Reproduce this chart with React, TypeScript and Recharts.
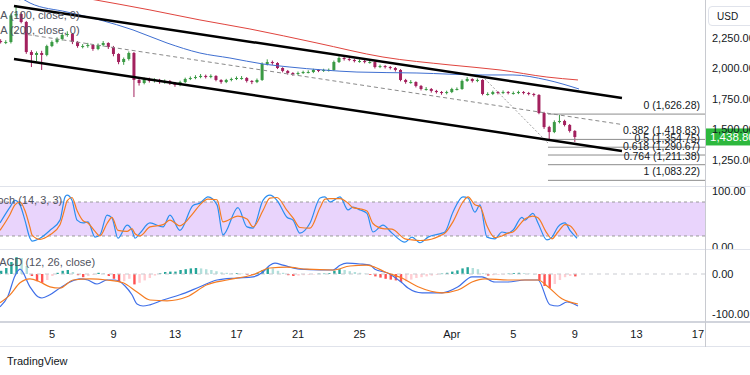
import { ComposedChart, Bar, Line, XAxis, YAxis, ReferenceLine, ReferenceArea } from "recharts";

const FONT = '"Liberation Sans", Arial, sans-serif';
const TEXT = "#131722";
const UP = "#3a9a44";
const DOWN = "#a3215e";
const X_DOMAIN: [number, number] = [1.62, 47.46];

// 8h candles, t = day of month (Apr 1 == 31)
const firstOpen = 2225;
const closes = [
  2217, 2217, 2435, 2447, 2381, 2135, 2111, 2127, 2111, 2184,
  2217, 2242, 2275, 2283, 2217, 2184, 2184, 2193, 2160, 2193,
  2209, 2176, 2119, 2053, 2078, 2127, 1906, 1881, 1914, 1898,
  1906, 1889, 1898, 1881, 1865, 1889, 1914, 1922, 1930, 1939,
  1930, 1939, 1906, 1889, 1906, 1914, 1922, 1922, 1898, 1889,
  1906, 2037, 2053, 2045, 2004, 1980, 1963, 1955, 1963, 1971,
  1971, 1988, 1980, 1988, 1988, 2053, 2086, 2078, 2070, 2061,
  2061, 2053, 2053, 2012, 2020, 2012, 2004, 1988, 1906, 1889,
  1889, 1857, 1832, 1832, 1816, 1807, 1799, 1807, 1832, 1832,
  1898, 1914, 1898, 1906, 1791, 1791, 1807, 1799, 1807, 1799,
  1799, 1807, 1799, 1791, 1783, 1635, 1520, 1479, 1561, 1570,
  1537, 1488, 1438.8,
];
const highs = [
  2240, 2232, 2450, 2520, 2460, 2390, 2150, 2140, 2145, 2195,
  2230, 2255, 2290, 2305, 2290, 2225, 2200, 2210, 2200, 2205,
  2225, 2215, 2185, 2125, 2090, 2140, 2135, 1925, 1925, 1925,
  1920, 1915, 1910, 1905, 1890, 1900, 1925, 1935, 1945, 1955,
  1950, 1952, 1945, 1912, 1915, 1925, 1935, 1938, 1930, 1905,
  1918, 2050, 2075, 2065, 2052, 2010, 1988, 1970, 1975, 1982,
  1985, 1998, 1995, 1998, 2000, 2065, 2100, 2095, 2090, 2080,
  2075, 2070, 2068, 2060, 2032, 2028, 2020, 2012, 1995, 1915,
  1905, 1895, 1865, 1848, 1840, 1825, 1815, 1818, 1842, 1845,
  1910, 1930, 1920, 1918, 1912, 1805, 1818, 1815, 1820, 1815,
  1812, 1818, 1815, 1808, 1800, 1790, 1645, 1530, 1575, 1619,
  1580, 1545, 1495,
];
const lows = [
  2205, 2200, 2205, 2420, 2370, 2120, 2012, 2060, 1988, 2100,
  2175, 2205, 2230, 2260, 2200, 2170, 2165, 2170, 2145, 2150,
  2180, 2160, 2100, 2035, 2030, 2065, 1766, 1860, 1870, 1885,
  1885, 1875, 1875, 1865, 1850, 1855, 1880, 1905, 1912, 1920,
  1918, 1920, 1895, 1875, 1880, 1895, 1905, 1908, 1885, 1872,
  1880, 1898, 2025, 2030, 1995, 1968, 1950, 1940, 1945, 1955,
  1960, 1962, 1970, 1972, 1975, 1980, 2045, 2065, 2060, 2050,
  2048, 2042, 2040, 2000, 2003, 2000, 1992, 1975, 1895, 1875,
  1875, 1845, 1820, 1818, 1802, 1795, 1785, 1788, 1798, 1820,
  1825, 1890, 1885, 1888, 1780, 1778, 1782, 1788, 1790, 1788,
  1786, 1790, 1788, 1780, 1770, 1625, 1505, 1414, 1470, 1550,
  1525, 1475, 1398,
];
const histogram = [
  8, 15, 30, 42, 40, 20, -5, -18, -22, -15,
  -5, 3, 8, 10, 5, -3, -8, -5, -2, 3,
  2, -5, -12, -20, -18, -12, -26, -22, -16, -10,
  -4, 2, 5, 6, 6, 10, 12, 14, 15, 14,
  12, 10, 7, 4, 3, 2, 2, 1, -2, -2,
  3, 10, 16, 14, 8, 3, -3, -5, -4, -3,
  -2, -1, 1, 1, 2, 8, 12, 10, 7, 5,
  3, 1, -2, -6, -9, -12, -14, -16, -20, -18,
  -14, -10, -8, -6, -4, -2, 1, 3, 6, 9,
  14, 17, 15, 12, 2, -4, -3, -2, -1, 1,
  2, 3, 2, 1, 0, -15, -30, -35, -25, -15,
  -8, -5, -6,
];

const ma100T = [2.9, 3.57, 5.98, 8.12, 10.27, 12.48, 14.62, 16.57, 18.72, 20.47, 22.62, 24.83, 28.73, 33.02, 34.97, 37.18, 39.27];
const ma100Val = [2585, 2537, 2463, 2398, 2316, 2209, 2127, 2086, 2037, 2012, 1988, 1971, 1963, 1947, 1947, 1906, 1832];
const ma200T = [7.47, 11.37, 14.62, 17.87, 22.23, 26.52, 30.88, 34.13, 37.18, 39.2];
const ma200Val = [2570, 2480, 2398, 2324, 2209, 2094, 2029, 1988, 1930, 1906];

// drawing tools
const channelUpper = [{ x: 2.53, y: 2512 }, { x: 42.06, y: 1758 }];
const channelLower = [{ x: 2.53, y: 2078 }, { x: 42.06, y: 1324 }];
const channelMid = [{ x: 2.53, y: 2295 }, { x: 42.06, y: 1541 }];
const fibTrend = [{ x: 32.96, y: 1939 }, { x: 37.25, y: 1389 }];
const fibStartT = 37.25;
const fibLevels = ["0", "0.382", "0.5", "0.618", "0.764", "1"];
const fibPrices = [1626.28, 1418.83, 1354.75, 1290.67, 1211.38, 1083.22];

const stochT = [
  1.62, 2.27, 2.59, 2.92, 3.24, 3.57, 3.7, 4.22, 4.87, 5.52,
  5.85, 5.98, 6.3, 6.63, 7.02, 7.34, 7.8, 8.12, 8.58, 8.9,
  9.29, 9.88, 10.2, 10.4, 10.72, 11.37, 12.22, 12.67, 13.32, 14.17,
  14.62, 15.14, 15.73, 16.12, 17.09, 17.68, 18.07, 18.72, 19.17, 19.63,
  20.28, 20.67, 21.12, 21.78, 22.43, 22.75, 23.08, 23.73, 24.25, 24.57,
  25.03, 25.48, 25.87, 26.52, 27.11, 27.95, 28.41, 28.93, 29.45, 30.36,
  30.55, 31.07, 31.72, 32.05, 32.5, 32.83, 33.28, 33.8, 34.26, 34.65,
  34.97, 35.56, 35.75, 36.27, 36.6, 37.18, 37.51, 37.9, 38.36, 38.68,
  39.14,
];
const stochK = [
  43, 71, 83, 75, 48, 16, 11, 16, 30, 48,
  89, 92, 83, 48, 43, 45, 18, 22, 57, 52,
  16, 39, 30, 16, 25, 43, 36, 57, 30, 74,
  78, 89, 75, 22, 70, 36, 34, 83, 92, 83,
  53, 48, 25, 43, 87, 89, 80, 89, 66, 71,
  66, 60, 27, 39, 25, 9, 18, 8, 18, 25,
  27, 62, 89, 87, 62, 75, 18, 15, 27, 25,
  30, 53, 48, 60, 43, 13, 18, 36, 43, 30,
  16,
];
const stochD = [
  30, 58, 75, 80, 65, 35, 22, 14, 22, 40,
  70, 82, 88, 65, 47, 43, 28, 20, 42, 53,
  30, 28, 33, 24, 20, 36, 40, 48, 38, 60,
  75, 85, 84, 45, 55, 50, 36, 65, 87, 88,
  65, 52, 35, 34, 70, 85, 86, 86, 78, 70,
  68, 64, 42, 33, 32, 15, 13, 12, 13, 22,
  25, 45, 80, 89, 75, 72, 38, 17, 20, 25,
  27, 45, 50, 55, 52, 25, 15, 27, 40, 38,
  22,
];

const macdT = [
  1.62, 2.14, 2.59, 2.92, 3.57, 4.09, 4.35, 4.87, 5.52, 6.17,
  6.82, 7.34, 7.93, 8.58, 9.1, 9.75, 10.2, 10.53, 10.92, 11.37,
  12.22, 13.32, 14.62, 15.73, 17.03, 18.07, 18.72, 19.17, 19.5, 20.02,
  21.12, 22.43, 23.27, 23.73, 24.18, 25.03, 25.68, 26.0, 26.85, 27.76,
  28.15, 29.06, 30.36, 31.4, 32.31, 32.96, 33.8, 34.65, 35.75, 36.6,
  37.38, 37.9, 38.49, 39.2,
];
const macdVal = [
  -82, -55, -5, 12, -32, -57, -60, -52, -35, -20,
  -12, -15, -25, -15, -15, -30, -52, -75, -80, -77,
  -65, -52, -32, -15, -10, -7, 5, 22, 27, 22,
  12, 10, 10, 22, 27, 25, 22, 12, 2, -22,
  -35, -47, -47, -32, -7, -7, -20, -20, -15, -15,
  -77, -80, -70, -80,
];
const signalT = [
  1.62, 2.27, 2.92, 3.57, 4.22, 4.87, 5.52, 6.37, 7.47, 8.58,
  9.62, 10.53, 11.37, 12.48, 13.78, 15.08, 16.38, 18.07, 19.17, 20.28,
  21.57, 23.27, 24.38, 25.48, 26.0, 26.65, 27.76, 28.8, 30.36, 31.4,
  32.31, 33.15, 34.65, 36.6, 37.25, 38.16, 39.2,
];
const signalVal = [
  -72, -52, -22, -12, -20, -32, -35, -15, -12, -15,
  -22, -45, -65, -67, -57, -27, -15, -2, 15, 17,
  12, 10, 20, 22, 17, 5, -10, -32, -47, -40,
  -20, -12, -15, -15, -32, -62, -75,
];

const priceTicks = [1250, 1500, 1750, 2000, 2250];
const xTicks = [5, 9, 13, 17, 21, 25, 31, 35, 39, 43, 47];
const xLabels = ["5", "9", "13", "17", "21", "25", "Apr", "5", "9", "13", "17"];

const candles = closes.map((c, k) => ({
  t: 1 + (k + 2) / 3,
  open: k === 0 ? firstOpen : closes[k - 1],
  close: c,
  high: highs[k],
  low: lows[k],
  range: [lows[k], highs[k]],
}));
const histData = histogram.map((v, k) => ({ t: candles[k].t, hist: v }));
const ma100 = ma100T.map((t, k) => ({ t, v: ma100Val[k] }));
const ma200 = ma200T.map((t, k) => ({ t, v: ma200Val[k] }));
const stoch = stochT.map((t, k) => ({ t, k: stochK[k], d: stochD[k] }));
const macd = macdT.map((t, k) => ({ t, v: macdVal[k] }));
const signal = signalT.map((t, k) => ({ t, v: signalVal[k] }));
const lastClose = closes[closes.length - 1];

const fmt = (v: number) => v.toLocaleString("en-US", { minimumFractionDigits: 2, maximumFractionDigits: 2 });

const histColor = (k: number) => {
  const v = histogram[k];
  const prev = k > 0 ? histogram[k - 1] : v;
  if (v >= 0) return v >= prev ? "#26a69a" : "#b2dfdb";
  return v <= prev ? "#ff5252" : "#ffcdd2";
};

const Candle = (props: any) => {
  const { x, y, width, height, payload } = props;
  if (!payload || x == null || isNaN(y)) return null;
  const { open, close, high, low } = payload;
  const top = Math.min(y, y + height);
  const h = Math.abs(height);
  const k = h / (high - low || 1);
  const py = (v: number) => top + (high - v) * k;
  const color = close >= open ? UP : DOWN;
  const cx = x + width / 2;
  const bTop = py(Math.max(open, close));
  const bH = Math.max(1, Math.abs(py(open) - py(close)));
  return (
    <g>
      <line x1={cx} x2={cx} y1={top} y2={top + h} stroke={color} strokeWidth={1} />
      <rect x={cx - 1.5} y={bTop} width={3} height={bH} fill={color} />
    </g>
  );
};

const HistBar = (props: any) => {
  const { x, y, width, height, index } = props;
  if (x == null || isNaN(y)) return null;
  const top = Math.min(y, y + height);
  const h = Math.max(0.5, Math.abs(height));
  return <rect x={x + width / 2 - 1.2} y={top} width={2.4} height={h} fill={histColor(index)} />;
};

const PriceTag = (props: any) => {
  const vb = props.viewBox;
  if (!vb) return null;
  const x0 = vb.x + vb.width;
  return (
    <g>
      <rect x={x0} y={vb.y - 8.5} width={50} height={17} fill="#2db83d" />
      <text x={x0 + 5} y={vb.y + 4.5} fill="#fff" fontSize={11.5} fontFamily={FONT}>
        {fmt(lastClose)}
      </text>
    </g>
  );
};

const axisTick = { fill: TEXT, fontSize: 11, fontFamily: FONT };

const legend = (text: string, left: number, top: number) => (
  <div style={{ position: "absolute", left, top, fontSize: 11, color: "#50535e", whiteSpace: "nowrap", lineHeight: "13px" }}>
    {text}
  </div>
);

const App = () => (
  <div style={{ position: "relative", width: 750, height: 375, overflow: "hidden", background: "#fff", fontFamily: FONT }}>
    <style>{"body{margin:0}"}</style>

    <div style={{ position: "absolute", left: 0, top: 0 }}>
      <ComposedChart width={750} height={186} data={candles} margin={{ top: 0, right: 0, bottom: 1, left: 0 }}>
        <XAxis type="number" dataKey="t" domain={X_DOMAIN} hide allowDataOverflow />
        <XAxis xAxisId="bars" type="number" dataKey="t" domain={X_DOMAIN} hide allowDataOverflow />
        <YAxis
          orientation="right"
          width={45}
          domain={[1045, 2561.5]}
          ticks={priceTicks}
          interval={0}
          tickFormatter={fmt}
          axisLine={false}
          tickLine={false}
          tickSize={5}
          tick={axisTick}
          allowDataOverflow
        />
        <ReferenceLine segment={channelMid} stroke="#8a8a8a" strokeDasharray="4 3" />
        <ReferenceLine segment={fibTrend} stroke="#a0a0a0" strokeDasharray="2 2" />
        {fibPrices.map((p, k) => (
          <ReferenceLine
            key={k}
            segment={[{ x: fibStartT, y: p }, { x: X_DOMAIN[1], y: p }]}
            stroke="#8c8c8c"
            label={{ value: `${fibLevels[k]} (${fmt(p)})`, position: "insideBottomRight", offset: 5, fontSize: 10.5, fill: TEXT, fontFamily: FONT }}
          />
        ))}
        <Line data={ma200} dataKey="v" type="monotone" stroke="#e0443e" strokeWidth={1} dot={false} isAnimationActive={false} />
        <Line data={ma100} dataKey="v" type="monotone" stroke="#3f6fd1" strokeWidth={1} dot={false} isAnimationActive={false} />
        <Bar xAxisId="bars" dataKey="range" barSize={3} shape={(p: any) => <Candle {...p} />} isAnimationActive={false} />
        <ReferenceLine segment={channelUpper} stroke="#000" strokeWidth={2.5} />
        <ReferenceLine segment={channelLower} stroke="#000" strokeWidth={2.5} />
        <ReferenceLine y={lastClose} stroke="none" label={<PriceTag />} />
      </ComposedChart>
    </div>

    <div style={{ position: "absolute", left: 0, top: 187 }}>
      <ComposedChart width={750} height={62} data={stoch} margin={{ top: 0, right: 0, bottom: 0, left: 0 }}>
        <XAxis type="number" dataKey="t" domain={X_DOMAIN} hide allowDataOverflow />
        <YAxis
          orientation="right"
          width={45}
          domain={[-3, 106.5]}
          ticks={[0, 100]}
          interval={0}
          tickFormatter={fmt}
          axisLine={false}
          tickLine={false}
          tickSize={5}
          tick={axisTick}
          allowDataOverflow
        />
        <ReferenceArea y1={20} y2={80} fill="#e9d4fc" fillOpacity={1} stroke="none" />
        <ReferenceLine y={80} stroke="#9a9a9a" strokeDasharray="3 3" />
        <ReferenceLine y={20} stroke="#9a9a9a" strokeDasharray="3 3" />
        <Line dataKey="k" type="monotone" stroke="#2b8ef0" strokeWidth={1.2} dot={false} isAnimationActive={false} />
        <Line dataKey="d" type="monotone" stroke="#f57c22" strokeWidth={1.2} dot={false} isAnimationActive={false} />
      </ComposedChart>
    </div>

    <div style={{ position: "absolute", left: 0, top: 250 }}>
      <ComposedChart width={750} height={97} data={histData} margin={{ top: 0, right: 0, bottom: 0, left: 0 }}>
        <XAxis
          type="number"
          dataKey="t"
          domain={X_DOMAIN}
          ticks={xTicks}
          interval={0}
          tickFormatter={(v: number) => xLabels[xTicks.indexOf(v)] ?? ""}
          axisLine={false}
          tickLine={false}
          tick={axisTick}
          height={25}
          allowDataOverflow
        />
        <XAxis xAxisId="bars" type="number" dataKey="t" domain={X_DOMAIN} hide allowDataOverflow />
        <YAxis
          orientation="right"
          width={45}
          domain={[-120, 60]}
          ticks={[-100, 0]}
          interval={0}
          tickFormatter={fmt}
          axisLine={false}
          tickLine={false}
          tickSize={5}
          tick={axisTick}
          allowDataOverflow
        />
        <ReferenceLine y={0} stroke="#c9cbd1" strokeDasharray="4 4" />
        <Bar xAxisId="bars" dataKey="hist" barSize={2} shape={(p: any) => <HistBar {...p} />} isAnimationActive={false} />
        <Line data={macd} dataKey="v" type="monotone" stroke="#3f6fe8" strokeWidth={1.2} dot={false} isAnimationActive={false} />
        <Line data={signal} dataKey="v" type="monotone" stroke="#f57c22" strokeWidth={1.2} dot={false} isAnimationActive={false} />
      </ComposedChart>
    </div>

    {/* pane separators and axis frame */}
    <div style={{ position: "absolute", left: 0, top: 186, width: 750, height: 1, background: "#e0e3eb" }} />
    <div style={{ position: "absolute", left: 0, top: 249, width: 750, height: 1, background: "#e0e3eb" }} />
    <div style={{ position: "absolute", left: 0, top: 321, width: 750, height: 2, background: "#d1d4dc" }} />
    <div style={{ position: "absolute", left: 0, top: 346, width: 750, height: 1, background: "#e0e3eb" }} />
    <div style={{ position: "absolute", left: 705, top: 0, width: 1, height: 347, background: "#c8cad0" }} />

    <div
      style={{
        position: "absolute", left: 708, top: 6, width: 50, height: 20, border: "1px solid #e0e3eb",
        borderRadius: 4, fontSize: 10, color: TEXT, lineHeight: "20px", paddingLeft: 8, boxSizing: "border-box",
      }}
    >
      USD
    </div>

    {legend("MA (100, close, 0)", -9, 9)}
    {legend("MA (200, close, 0)", -9, 24)}
    {legend("Stoch (14, 3, 3)", -13, 194)}
    {legend("MACD (12, 26, close)", -10, 256)}

    <div style={{ position: "absolute", left: 7, top: 355, fontSize: 11, color: TEXT, fontWeight: 500 }}>TradingView</div>
  </div>
);

export default App;
